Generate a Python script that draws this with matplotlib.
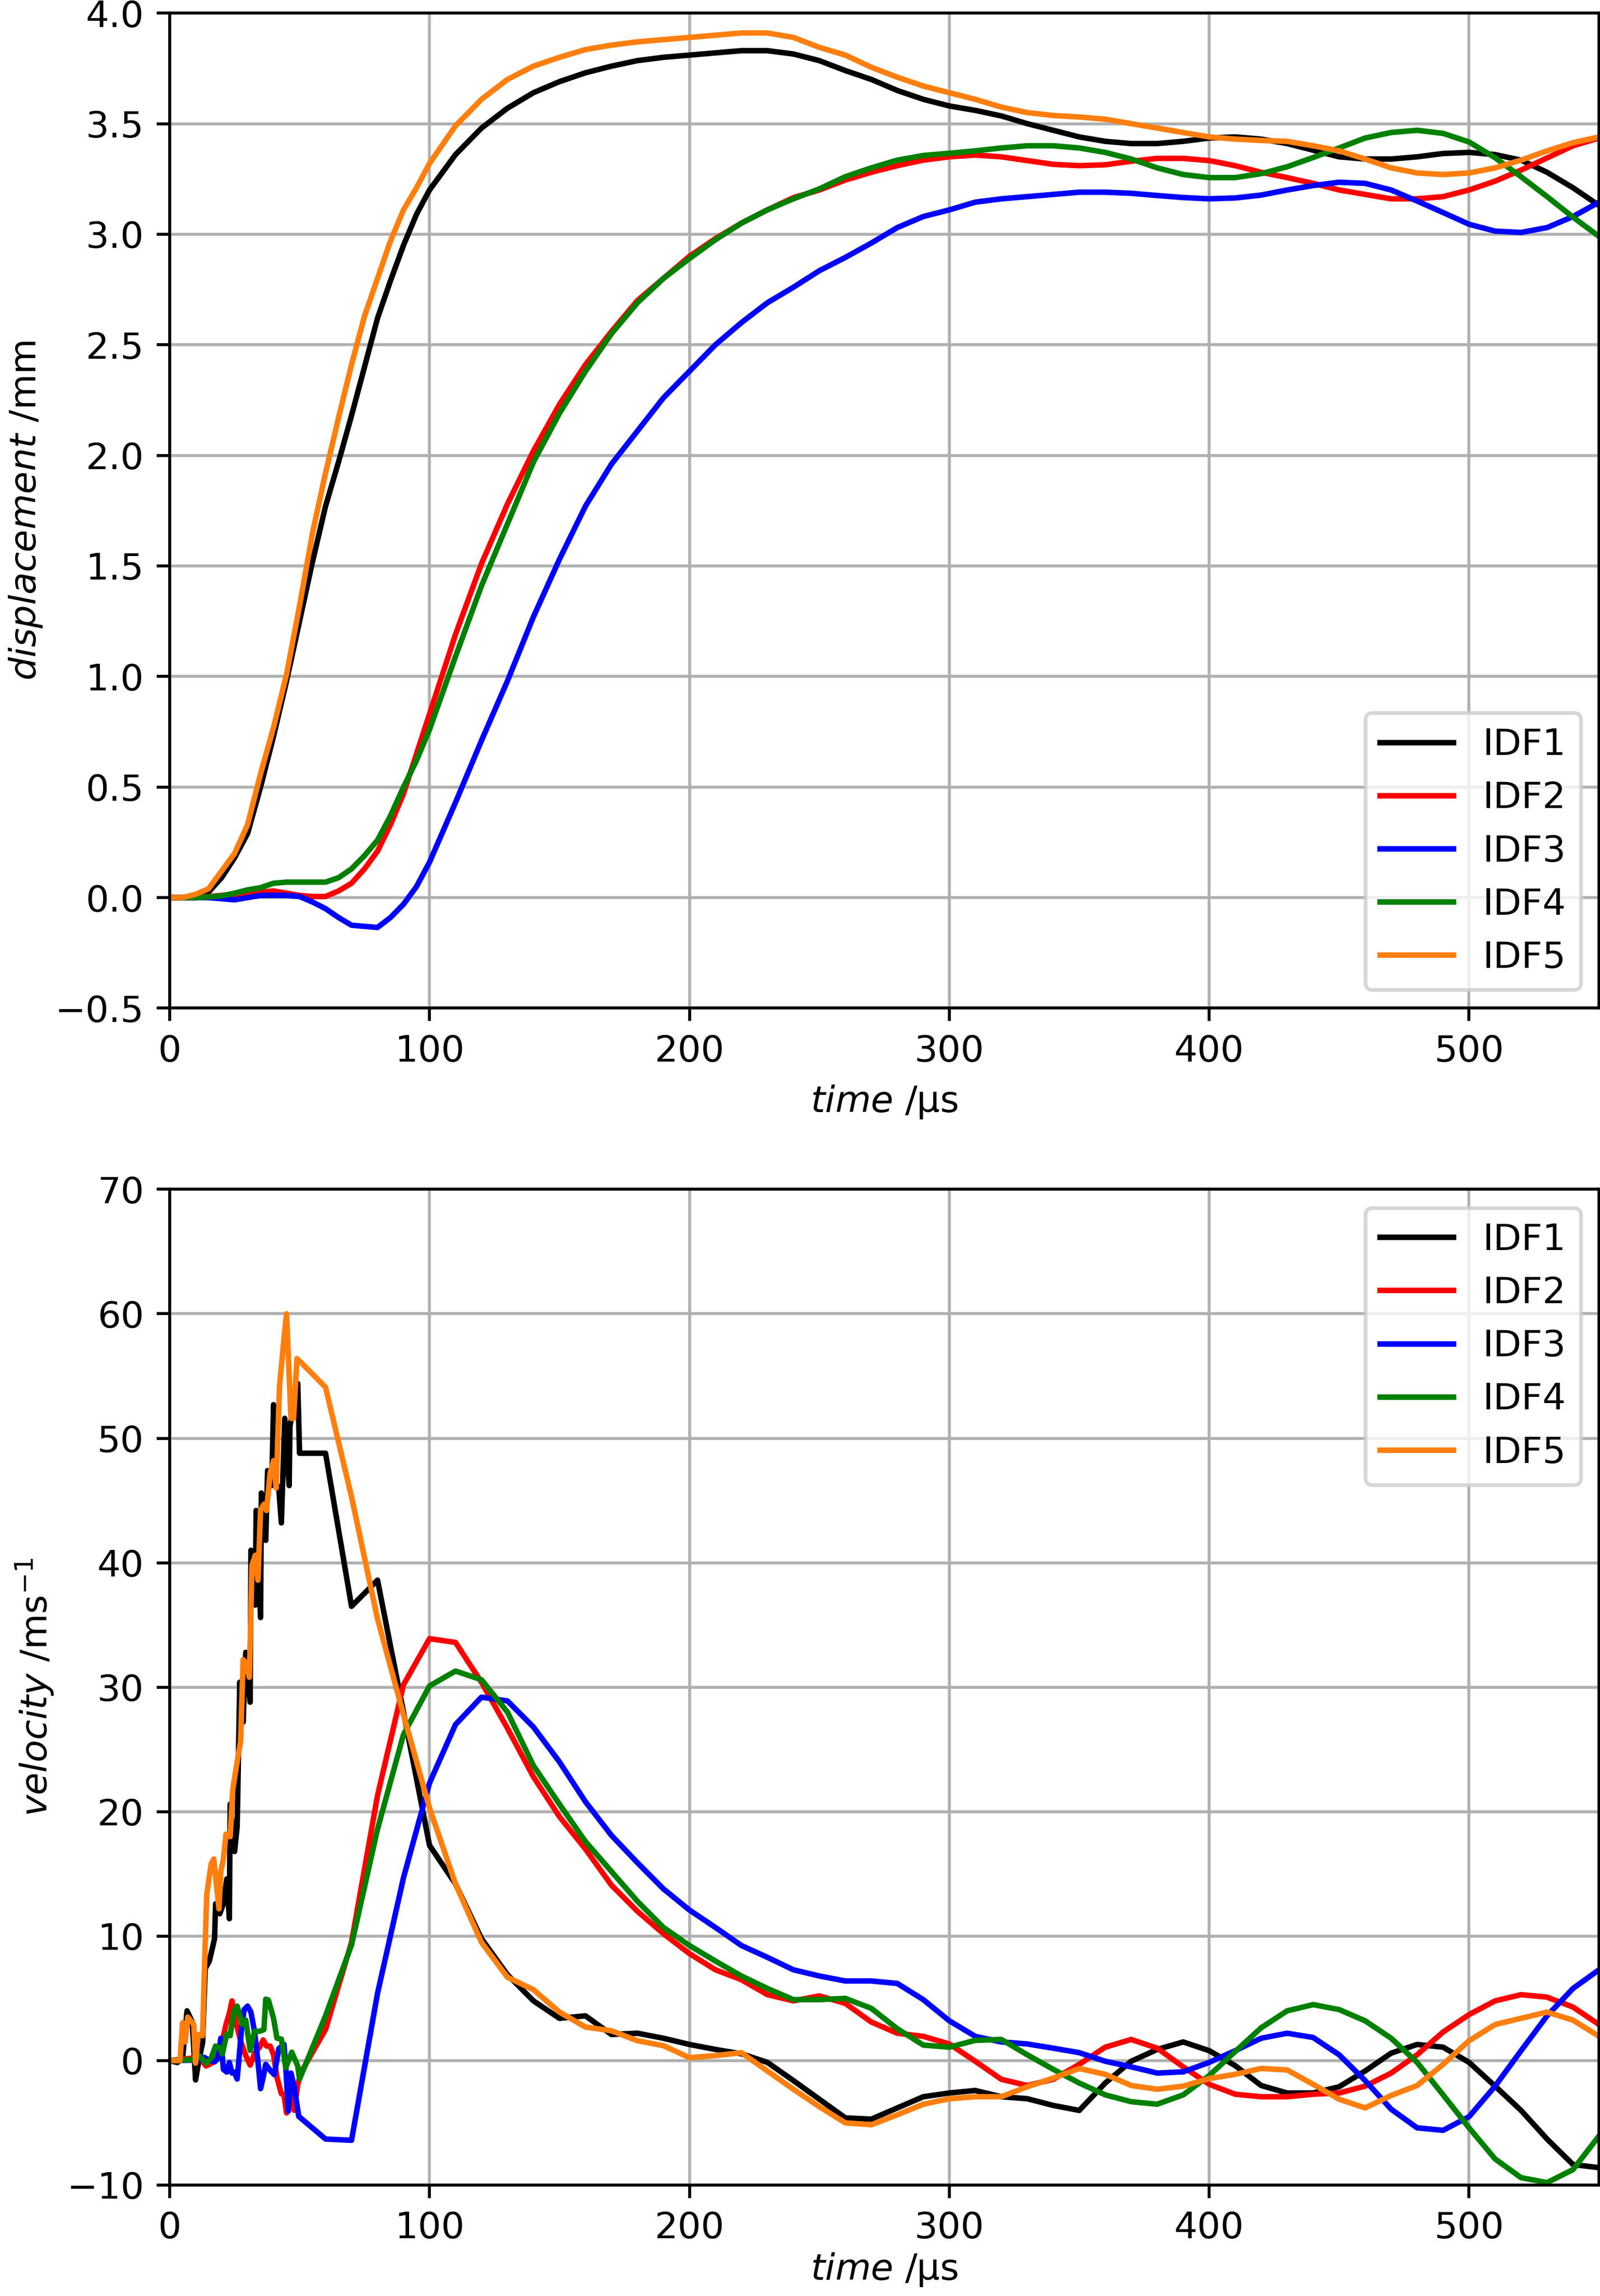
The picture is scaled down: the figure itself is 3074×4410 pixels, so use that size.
import numpy as np
import matplotlib
matplotlib.use("Agg")
import matplotlib.pyplot as plt

# ========================================================
# 1. DATA
# ========================================================
labels = ["IDF1", "IDF2", "IDF3", "IDF4", "IDF5"]
colors = ["k", "r", "b", "g", "tab:orange"]

# displacement: shared time grid /us
t_disp = [0, 5, 10, 15, 20, 25, 30, 35, 40, 45, 50, 55, 60, 65, 70, 75, 80, 85, 90, 95,
          100, 110, 120, 130, 140, 150, 160, 170, 180, 190, 200, 210, 220, 230, 240,
          250, 260, 270, 280, 290, 300, 310, 320, 330, 340, 350, 360, 370, 380, 390,
          400, 410, 420, 430, 440, 450, 460, 470, 480, 490, 500, 510, 520, 530, 540, 550]

disp_idf1 = [0, 0.0, 0.005, 0.025, 0.09, 0.18, 0.29, 0.50, 0.73, 0.98, 1.25, 1.52, 1.77, 1.97,
             2.18, 2.40, 2.62, 2.79, 2.95, 3.09, 3.20, 3.36, 3.48, 3.57, 3.64, 3.69, 3.73,
             3.76, 3.785, 3.80, 3.81, 3.82, 3.83, 3.83, 3.815, 3.785, 3.74, 3.70, 3.65, 3.61,
             3.58, 3.56, 3.535, 3.50, 3.47, 3.44, 3.42, 3.41, 3.41, 3.42, 3.435, 3.44, 3.43,
             3.41, 3.38, 3.35, 3.34, 3.34, 3.35, 3.365, 3.37, 3.36, 3.335, 3.28, 3.21, 3.13]
disp_idf2 = [0, 0, 0, 0.005, 0.01, 0.015, 0.02, 0.025, 0.03, 0.02, 0.01, 0.005, 0.005, 0.03,
             0.065, 0.13, 0.21, 0.33, 0.47, 0.65, 0.83, 1.19, 1.51, 1.78, 2.02, 2.23, 2.41,
             2.56, 2.70, 2.80, 2.90, 2.98, 3.05, 3.11, 3.165, 3.20, 3.245, 3.28, 3.31, 3.335,
             3.35, 3.358, 3.35, 3.333, 3.316, 3.31, 3.314, 3.33, 3.343, 3.343, 3.333, 3.31,
             3.28, 3.256, 3.23, 3.20, 3.18, 3.16, 3.16, 3.17, 3.20, 3.24, 3.29, 3.345, 3.40, 3.435]
disp_idf3 = [0, 0, 0, 0, -0.005, -0.01, 0.0, 0.01, 0.01, 0.01, 0.005, -0.02, -0.05, -0.09,
             -0.125, -0.13, -0.135, -0.09, -0.03, 0.05, 0.16, 0.43, 0.71, 0.98, 1.27, 1.53,
             1.77, 1.96, 2.11, 2.26, 2.38, 2.50, 2.60, 2.69, 2.76, 2.835, 2.895, 2.96, 3.03,
             3.08, 3.11, 3.145, 3.16, 3.17, 3.18, 3.19, 3.19, 3.185, 3.175, 3.166, 3.16, 3.164,
             3.177, 3.20, 3.22, 3.235, 3.23, 3.20, 3.15, 3.098, 3.045, 3.014, 3.008, 3.03,
             3.08, 3.145]
disp_idf4 = [0, 0, 0, 0.003, 0.008, 0.02, 0.035, 0.045, 0.065, 0.07, 0.07, 0.07, 0.07, 0.09,
             0.13, 0.19, 0.26, 0.37, 0.50, 0.62, 0.76, 1.09, 1.41, 1.69, 1.97, 2.19, 2.38,
             2.55, 2.69, 2.80, 2.89, 2.975, 3.05, 3.11, 3.16, 3.205, 3.26, 3.30, 3.335, 3.356,
             3.366, 3.377, 3.39, 3.40, 3.40, 3.39, 3.37, 3.34, 3.30, 3.27, 3.256, 3.256, 3.274,
             3.305, 3.347, 3.39, 3.435, 3.46, 3.47, 3.456, 3.417, 3.346, 3.26, 3.17, 3.077, 2.99]
disp_idf5 = [0, 0.0, 0.015, 0.04, 0.12, 0.20, 0.33, 0.56, 0.77, 1.01, 1.32, 1.65, 1.92, 2.17,
             2.41, 2.63, 2.80, 2.97, 3.11, 3.21, 3.32, 3.49, 3.61, 3.70, 3.76, 3.80, 3.835,
             3.855, 3.87, 3.88, 3.89, 3.90, 3.91, 3.91, 3.89, 3.845, 3.81, 3.755, 3.71, 3.67,
             3.64, 3.61, 3.575, 3.55, 3.537, 3.53, 3.52, 3.50, 3.48, 3.46, 3.44, 3.43, 3.424,
             3.42, 3.40, 3.377, 3.34, 3.30, 3.277, 3.27, 3.277, 3.30, 3.335, 3.377, 3.414, 3.44]

# velocity: dense, noisy samples up to ~50 us, then a 10 us tail
t_tail = [60, 70, 80, 90, 100, 110, 120, 130, 140, 150, 160, 170, 180, 190, 200, 210, 220,
          230, 240, 250, 260, 270, 280, 290, 300, 310, 320, 330, 340, 350, 360, 370, 380,
          390, 400, 410, 420, 430, 440, 450, 460, 470, 480, 490, 500, 510, 520, 530, 540, 550]

t_vel_idf1 = [0, 3, 5, 6.7, 8.7, 10, 11.3, 12.7, 13.7, 15.3, 17.3, 17.7, 19.3, 20.7, 22, 23,
              23.3, 25, 26, 27, 28.3, 29.3, 31, 31.3, 33, 33.3, 35, 35.3, 37, 37.7, 39.3, 40,
              40.5, 42, 43, 44.3, 46, 46.3, 49.3, 50]
vel_idf1_head = [0, -0.15, 0.2, 4.0, 3.1, -1.55, 0.05, 1.45, 7.4, 8.0, 9.8, 12.6, 11.8, 12.6,
                 14.6, 11.4, 20.6, 16.8, 18.8, 30.4, 27.2, 32.8, 28.8, 41.0, 36.6, 44.2, 35.6,
                 45.6, 41.8, 47.4, 46.2, 52.7, 46.5, 46.0, 43.2, 51.6, 46.2, 51.0, 54.4, 48.8]
vel_idf1_tail = [48.8, 36.5, 38.6, 28.0, 17.3, 14.2, 9.8, 6.9, 4.8, 3.4, 3.6, 2.1, 2.2, 1.8,
                 1.3, 0.9, 0.55, -0.14, -1.6, -3.1, -4.6, -4.7, -3.8, -2.9, -2.6, -2.4, -2.9,
                 -3.06, -3.6, -4.0, -1.8, -0.05, 0.9, 1.5, 0.8, -0.4, -2.0, -2.6, -2.6, -2.1,
                 -0.83, 0.6, 1.3, 1.08, -0.14, -2.05, -4.0, -6.3, -8.35, -8.6]

t_vel_idf2 = [0, 8.7, 11.3, 14, 16, 17.7, 20, 21.7, 23, 24, 25.3, 27.3, 29.3, 31, 32.7, 34.7,
              36, 37.3, 38.7, 40, 41.3, 43, 44, 45, 46.7, 48, 49.3, 50.7]
vel_idf2_head = [0, 0.2, 0.3, -0.43, -0.22, 0.0, 1.3, 2.9, 3.8, 4.8, 3.26, 1.6, 0.4, -0.36,
                 0.6, 1.1, 1.66, 1.17, 1.17, 0.47, -1.34, -2.66, -2.73, -4.2, -1.76, -4.0,
                 -1.9, -0.9]
vel_idf2_tail = [2.5, 9.5, 21.3, 30.2, 33.9, 33.6, 30.4, 26.7, 22.8, 19.6, 17.0, 14.1, 12.0,
                 10.2, 8.6, 7.3, 6.5, 5.3, 4.8, 5.2, 4.6, 3.1, 2.2, 1.95, 1.34, -0.05, -1.5,
                 -2.0, -1.5, -0.3, 1.08, 1.7, 1.0, -0.5, -1.9, -2.7, -2.9, -2.9, -2.7, -2.6,
                 -2.05, -1.0, 0.47, 2.3, 3.7, 4.8, 5.3, 5.1, 4.3, 2.9]

t_vel_idf3 = [0, 12, 13.3, 15.3, 17.3, 18.7, 19.7, 20.7, 22, 23, 24, 25, 26, 27.7, 28.7, 30,
              31.3, 32.7, 34, 35, 36, 37, 38.7, 40.3, 42, 44, 44.7, 45.7, 46.7, 48, 49.7]
vel_idf3_head = [0, 0.05, 0.26, 0.05, -0.1, 0.2, 1.8, -0.7, -0.92, -0.15, -1.0, -0.92, -1.48,
                 2.57, 4.1, 4.38, 3.9, 2.3, -0.08, -2.25, -1.34, -0.3, -0.78, -1.13, 0.96,
                 1.31, -0.5, -4.06, -1.0, -2.18, -4.48]
vel_idf3_tail = [-6.3, -6.4, 5.4, 14.7, 22.3, 27.0, 29.2, 28.9, 26.8, 24.0, 20.8, 18.1, 15.9,
                 13.8, 12.1, 10.7, 9.25, 8.3, 7.3, 6.8, 6.4, 6.4, 6.2, 4.9, 3.2, 1.95, 1.5,
                 1.34, 1.0, 0.64, -0.05, -0.5, -1.0, -0.9, -0.14, 0.8, 1.8, 2.2, 1.86, 0.47,
                 -1.6, -3.9, -5.4, -5.6, -4.5, -2.05, 0.8, 3.6, 5.8, 7.3]

t_vel_idf4 = [0, 8.7, 11.3, 14, 16, 17.7, 19.3, 20.3, 22, 23.3, 24.7, 26, 28, 29.3, 31, 32.7,
              34.7, 36.3, 37, 38, 40, 41.3, 43, 44.7, 47, 49.3, 50]
vel_idf4_head = [0, 0.08, 0.4, -0.22, 0.2, 1.17, 1.03, 0.54, 2.15, 2.0, 3.96, 4.38, 2.9, 3.26,
                 0.82, 2.36, 2.36, 2.5, 4.94, 4.87, 3.4, 1.8, 1.73, -0.57, 0.68, -0.43, -1.48]
vel_idf4_tail = [3.6, 9.3, 18.6, 26.2, 30.1, 31.3, 30.6, 28.0, 23.7, 20.6, 17.6, 15.2, 12.8,
                 10.7, 9.25, 8.0, 6.8, 5.8, 4.9, 4.9, 5.0, 4.2, 2.56, 1.25, 1.08, 1.63, 1.7,
                 0.47, -0.7, -1.8, -2.75, -3.3, -3.5, -2.75, -1.2, 0.73, 2.64, 4.0, 4.5, 4.1,
                 3.2, 1.8, -0.14, -2.75, -5.4, -7.9, -9.4, -9.8, -8.75, -6.05]

t_vel_idf5 = [0, 4, 5, 6, 7, 9.3, 10, 11, 12.7, 13.5, 14.3, 16, 17, 19, 19.7, 20.7, 21.7, 23.3,
              24.3, 26.3, 27.3, 28.3, 29.3, 30.7, 31.7, 33, 34, 35, 36.3, 37.3, 38.7, 40, 41,
              42.3, 44, 45, 46.7, 47.7, 49, 51]
vel_idf5_head = [0, 0, 3.05, 1.5, 3.5, 2.9, -0.2, 2.1, 2.0, 8.0, 13.4, 15.8, 16.2, 12.2, 15.2,
                 16.2, 18.2, 18.0, 21.8, 24.4, 25.6, 32.2, 32.0, 30.8, 39.8, 40.6, 38.6, 44.2,
                 44.7, 44.2, 47.2, 48.2, 46.0, 54.2, 58.0, 60.0, 51.6, 51.6, 56.4, 56.0]
vel_idf5_tail = [54.1, 45.3, 35.5, 27.8, 20.3, 14.2, 9.5, 6.7, 5.7, 3.9, 2.7, 2.4, 1.6, 1.2,
                 0.24, 0.4, 0.64, -0.83, -2.3, -3.7, -5.0, -5.15, -4.35, -3.5, -3.06, -2.9,
                 -2.9, -2.1, -1.4, -0.63, -1.1, -2.0, -2.3, -2.05, -1.44, -1.1, -0.63, -0.75,
                 -1.9, -3.1, -3.8, -2.8, -2.0, -0.3, 1.6, 2.9, 3.4, 3.9, 3.25, 1.95]

# ========================================================
# 2. BUILD SERIES
# ========================================================
disp = [disp_idf1, disp_idf2, disp_idf3, disp_idf4, disp_idf5]
vel_t = [t_vel_idf1, t_vel_idf2, t_vel_idf3, t_vel_idf4, t_vel_idf5]
vel_head = [vel_idf1_head, vel_idf2_head, vel_idf3_head, vel_idf4_head, vel_idf5_head]
vel_tail = [vel_idf1_tail, vel_idf2_tail, vel_idf3_tail, vel_idf4_tail, vel_idf5_tail]

# ========================================================
# 3. PLOT
# ========================================================
dpi = 507
fig = plt.figure(figsize=(3074 / dpi, 4410 / dpi))
ax1 = fig.add_axes([0.106, 0.5609, 0.8934, 0.4334])
ax2 = fig.add_axes([0.106, 0.0483, 0.8934, 0.4337])

for lab, col, d in zip(labels, colors, disp):
    ax1.plot(t_disp, d, color=col, lw=1.5, label=lab)
ax1.set_xlim(0, 550)
ax1.set_ylim(-0.5, 4.0)
ax1.set_xlabel(r"$\it{time}$ /µs")
ax1.set_ylabel(r"$\it{displacement}$ /mm", labelpad=3.0)
ax1.grid(True)
ax1.legend(loc="lower right")

for lab, col, th, vh, vt in zip(labels, colors, vel_t, vel_head, vel_tail):
    t = np.concatenate([th, t_tail])
    v = np.concatenate([vh, vt])
    ax2.plot(t, v, color=col, lw=1.5, label=lab)
ax2.set_xlim(0, 550)
ax2.set_ylim(-10, 70)
ax2.set_xlabel(r"$\it{time}$ /µs", labelpad=1.5)
ax2.set_ylabel(r"$\it{velocity}$ /ms$^{-1}$", labelpad=3.0)
ax2.grid(True)
ax2.legend(loc="upper right")

fig.savefig("out.png", dpi=dpi)
